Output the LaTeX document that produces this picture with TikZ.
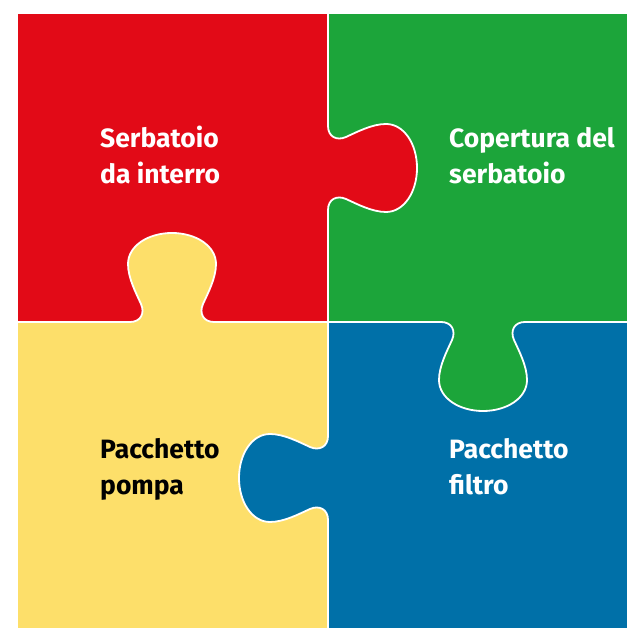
\documentclass[tikz,border=0pt]{standalone}
\usepackage{fontspec}
\setmainfont{Fira Sans}
\definecolor{tankred}{RGB}{226,10,23}
\definecolor{covergreen}{RGB}{28,165,58}
\definecolor{pumpyellow}{RGB}{253,223,106}
\definecolor{filterblue}{RGB}{0,112,168}
% one puzzle tab, base on the u-axis, knob pointing to +v
\newcommand{\tabedge}{(-42,0) .. controls (-31,0) and (-27,9) .. (-31,18)
  .. controls (-36,29) and (-44,44) .. (-44,58)
  .. controls (-44,76) and (-24,89) .. (0,89)
  .. controls (24,89) and (44,76) .. (44,58)
  .. controls (44,44) and (36,29) .. (31,18)
  .. controls (27,9) and (31,0) .. (42,0)}
\tikzset{
  seam/.style={draw=white, line width=1.8pt, line cap=round},
  piecetext/.style={font=\bfseries\fontsize{26.5}{36}\selectfont, align=left, inner sep=0pt, anchor=base west}
}
\begin{document}
\begin{tikzpicture}[x=1pt, y=1pt]
  \useasboundingbox (0, 0) rectangle (627, 628);
  \fill[white] (0, 0) rectangle (627, 628);

  % pieces
  \fill[tankred] (18, 306) rectangle (328, 614);
  \fill[covergreen] (328, 306) rectangle (627, 614);
  \fill[pumpyellow] (18, 0) rectangle (328, 306);
  \fill[filterblue] (328, 0) rectangle (627, 306);

  % tabs
  \begin{scope}[shift={(328, 460)}, rotate=-90]
    \fill[tankred] \tabedge -- (42, -2) -- (-42, -2) -- cycle;
    \draw[seam] \tabedge;
  \end{scope}
  \begin{scope}[shift={(172, 306)}]
    \fill[pumpyellow] \tabedge -- (42, -2) -- (-42, -2) -- cycle;
    \draw[seam] \tabedge;
  \end{scope}
  \begin{scope}[shift={(483, 306)}, rotate=180]
    \fill[covergreen] \tabedge -- (42, -2) -- (-42, -2) -- cycle;
    \draw[seam] \tabedge;
  \end{scope}
  \begin{scope}[shift={(328, 150)}, rotate=90]
    \fill[filterblue] \tabedge -- (42, -2) -- (-42, -2) -- cycle;
    \draw[seam] \tabedge;
  \end{scope}

  % straight seams
  \draw[seam] (328, 614) -- (328, 502);
  \draw[seam] (328, 418) -- (328, 192);
  \draw[seam] (328, 108) -- (328, 0);
  \draw[seam] (18, 306) -- (130, 306);
  \draw[seam] (214, 306) -- (441, 306);
  \draw[seam] (525, 306) -- (627, 306);

  % labels (base = last line)
  \node[piecetext, text=white] (tank) at (100, 444) {Serbatoio\\da interro};
  \node[piecetext, text=white] (cover) at (449, 444) {Copertura del\\serbatoio};
  \node[piecetext, text=black] (pump) at (100, 133) {Pacchetto\\pompa};
  \node[piecetext, text=white] (filter) at (449, 133) {Pacchetto\\filtro};
\end{tikzpicture}
\end{document}
